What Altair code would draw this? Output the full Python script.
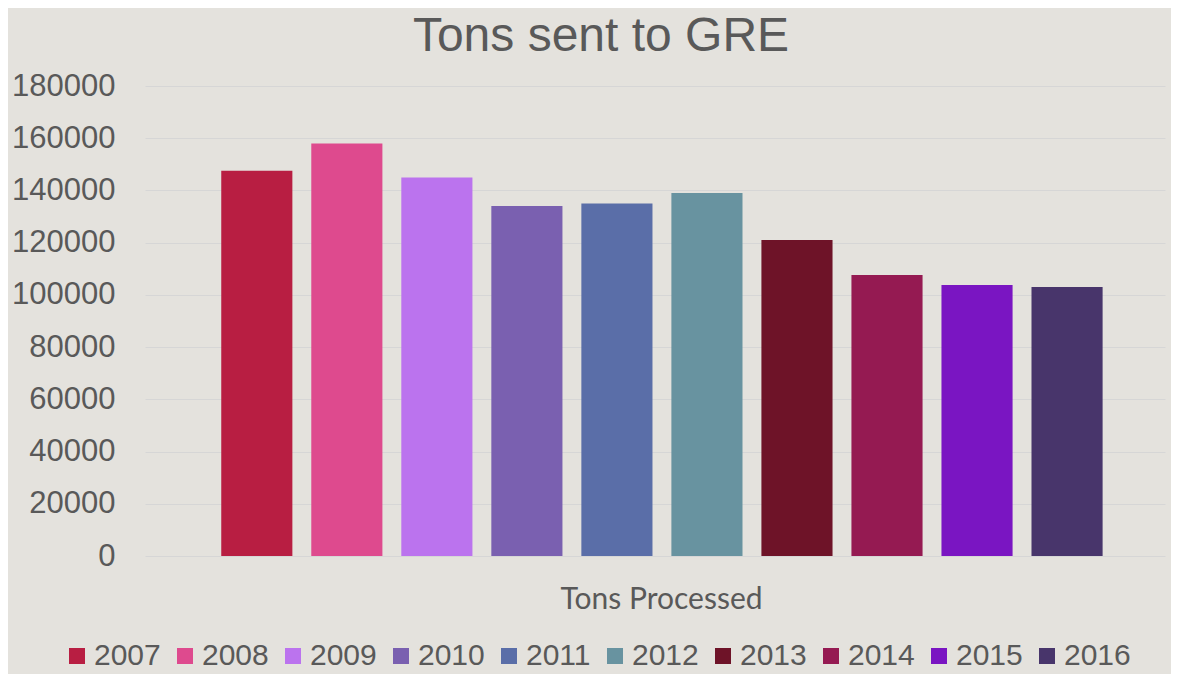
import altair as alt
import pandas as pd

years = ["2007", "2008", "2009", "2010", "2011", "2012", "2013", "2014", "2015", "2016"]
tons = [147500, 158000, 145000, 134000, 135000, 139000, 121000, 107600, 103800, 103000]
colors = ["#b81e42", "#de4a8e", "#bb73ee", "#7a60b0", "#5a6ea8",
          "#6893a0", "#6e1328", "#951a52", "#7a15c2", "#48356b"]
y_ticks = [0, 20000, 40000, 60000, 80000, 100000, 120000, 140000, 160000, 180000]

df = pd.DataFrame({"Year": years, "Tons": tons})

chart = alt.Chart(df).mark_bar().encode(
    x=alt.X("Year:N",
            scale=alt.Scale(paddingInner=0.21, paddingOuter=0.77, align=0.55),
            axis=alt.Axis(title="Tons Processed", labels=False, ticks=False, domain=False,
                          titleFont="Lato", titleFontSize=30, titleFontWeight="normal",
                          titleColor="#595959", titlePadding=28, titleX=516)),
    y=alt.Y("Tons:Q",
            scale=alt.Scale(domain=[0, 180000], nice=False),
            axis=alt.Axis(title=None, values=y_ticks, format="d", ticks=False, domain=False,
                          labelFont="Liberation Sans", labelFontSize=31, labelColor="#595959",
                          labelPadding=30, gridColor="#d6d6d6", gridWidth=1)),
    color=alt.Color("Year:N",
                    scale=alt.Scale(domain=years, range=colors),
                    legend=alt.Legend(title=None, orient="none", direction="horizontal",
                                      legendX=-83, legendY=90 + 470 - 5,
                                      symbolType="square", symbolSize=256,
                                      symbolStrokeWidth=0, symbolOpacity=1,
                                      labelFont="Liberation Sans", labelFontSize=30,
                                      labelColor="#595959", labelOffset=2,
                                      columnPadding=9, labelLimit=200)),
).properties(
    width=1020,
    height=470,
    title=alt.Title("Tons sent to GRE", font="Liberation Sans", fontSize=48,
                    fontWeight="normal", color="#595959", anchor="middle", dx=-54, offset=9),
    padding={"left": 137, "top": 78, "right": 6, "bottom": 118},
    autosize=alt.AutoSizeParams(type="none"),
    background="#e4e2dd",
).configure_view(stroke=None)

chart.save("out.html", embed_options={"renderer": "svg", "actions": False})
